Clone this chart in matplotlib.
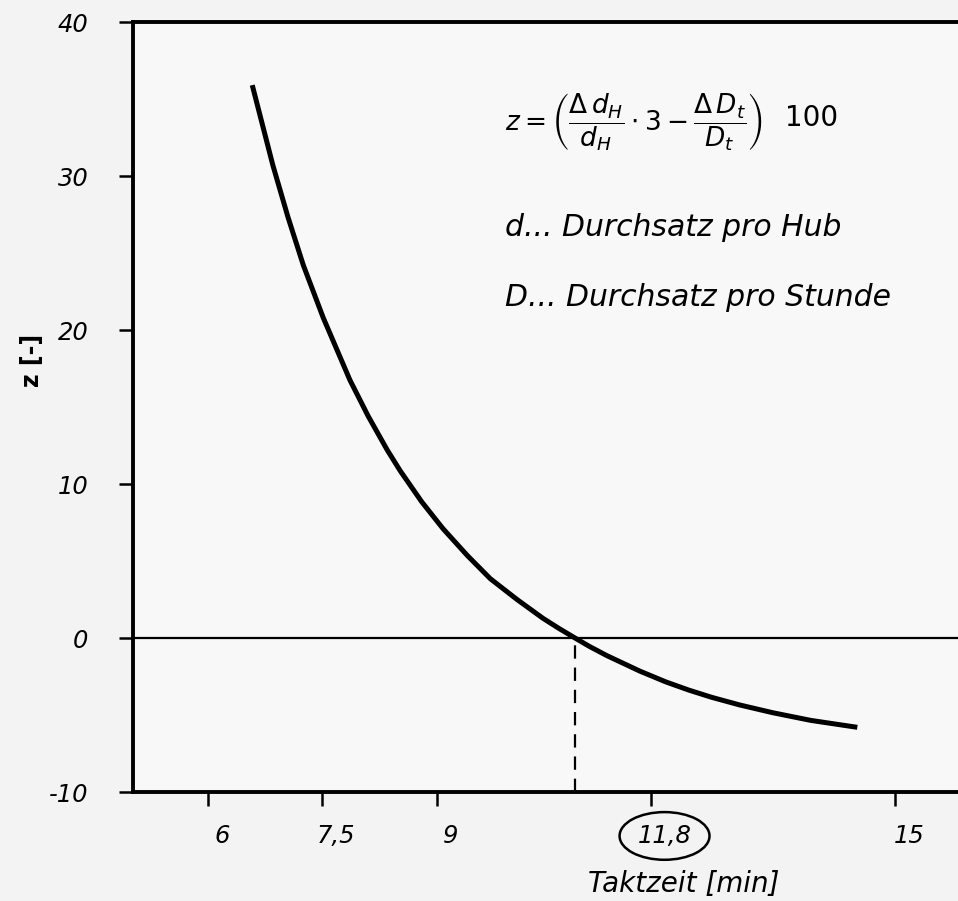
import matplotlib
matplotlib.use('Agg')
import matplotlib.pyplot as plt
import matplotlib.transforms as mtransforms

# Werte
taktzeit_min = [6.58, 6.85, 7.05, 7.25, 7.51, 7.86, 8.1, 8.35, 8.52, 8.8,
                9.08, 9.4, 9.70, 10.05, 10.39, 10.6, 10.81, 11.0, 11.23,
                11.66, 12.0, 12.3, 12.6, 12.97, 13.4, 13.9, 14.51]
z_wert = [35.9, 30.7, 27.3, 24.2, 20.8, 16.75, 14.4, 12.2, 10.85, 8.85,
          7.1, 5.35, 3.85, 2.5, 1.28, 0.62, 0.0, -0.55, -1.15,
          -2.15, -2.85, -3.38, -3.85, -4.35, -4.85, -5.35, -5.8]

x_ticks = [6, 7.5, 9, 11.8, 15]
x_ticklabels = ['6', '7,5', '9', '11,8', '15']
y_ticks = [-10, 0, 10, 20, 30, 40]
y_ticklabels = ['-10', '0', '10', '20', '30', '40']

nullstelle = 10.81   # gestrichelte Linie

plt.rcParams['font.family'] = ['DejaVu Sans']
plt.rcParams['mathtext.fontset'] = 'dejavusans'

W, H = 958, 901
fig = plt.figure(figsize=(W / 100, H / 100), dpi=100, facecolor='#f3f3f3')

left_px, right_px, top_px, bottom_px = 133, 980, 22, 792
ax = fig.add_axes([left_px / W, 1 - bottom_px / H,
                   (right_px - left_px) / W, (bottom_px - top_px) / H])
ax.set_facecolor('#f8f8f8')

x0 = 6 + (left_px - 208) / 76.3
x1 = 6 + (right_px - 208) / 76.3
ax.set_xlim(x0, x1)
ax.set_ylim(-10, 40)

# Kurve
ax.plot(taktzeit_min, z_wert, color='black', linewidth=3.6,
        solid_capstyle='butt', solid_joinstyle='round', zorder=3)

# Nulllinie und gestrichelte Senkrechte
ax.axhline(0, color='black', linewidth=1.6, zorder=2)
ax.plot([nullstelle, nullstelle], [-10, 0], color='black', linewidth=1.6,
        linestyle=(0, (6, 4)), zorder=2)

for side in ['left', 'bottom', 'top']:
    ax.spines[side].set_linewidth(2.8)
ax.spines['right'].set_visible(False)

ax.set_xticks(x_ticks)
ax.set_xticklabels(x_ticklabels)
ax.set_yticks(y_ticks)
ax.set_yticklabels(y_ticklabels)
ax.tick_params(axis='both', direction='out', length=10, width=1.8,
               labelsize=17.5)
ax.tick_params(axis='x', pad=13)
ax.tick_params(axis='y', pad=20)
for lab in ax.get_xticklabels() + ax.get_yticklabels():
    lab.set_fontstyle('italic')

# x-Beschriftungen etwas nach rechts verschoben (wie im Original)
shift = mtransforms.ScaledTranslation(14 / 100, 0, fig.dpi_scale_trans)
for lab in ax.get_xticklabels():
    lab.set_transform(lab.get_transform() + shift)
shift_y = mtransforms.ScaledTranslation(-3 / 100, 0, fig.dpi_scale_trans)
for lab in ax.get_yticklabels():
    lab.set_transform(lab.get_transform() + shift_y)

# 11,8 eingekreist
ax.get_xticklabels()[3].set_bbox(dict(boxstyle='ellipse,pad=0.2',
                                      facecolor='none', edgecolor='black',
                                      linewidth=1.8))

ax.set_xlabel('Taktzeit [min]', fontsize=20, fontstyle='italic', va='center')
ax.xaxis.set_label_coords((684 - left_px) / (right_px - left_px),
                          -(884 - bottom_px) / (bottom_px - top_px))
ax.set_ylabel('z [-]', fontsize=17, fontweight='bold', va='center')
ax.yaxis.set_label_coords((32 - left_px) / (right_px - left_px),
                          (bottom_px - 360) / (bottom_px - top_px))

# Formel und Legende
fig.text(505 / W, 1 - 122 / H,
         r'$z=\left(\dfrac{\Delta\, d_H}{d_H}\cdot 3-\dfrac{\Delta\, D_t}{D_t}\right)$',
         fontsize=19, va='center', ha='left')
fig.text(785 / W, 1 - 118 / H, '100', fontsize=20, va='center', ha='left')
fig.text(505 / W, 1 - 228 / H, 'd... Durchsatz pro Hub', fontsize=21.5,
         fontstyle='italic', va='center', ha='left')
fig.text(505 / W, 1 - 297 / H, 'D... Durchsatz pro Stunde', fontsize=21.5,
         fontstyle='italic', va='center', ha='left')

fig.savefig('out.png', dpi=100, facecolor=fig.get_facecolor())
